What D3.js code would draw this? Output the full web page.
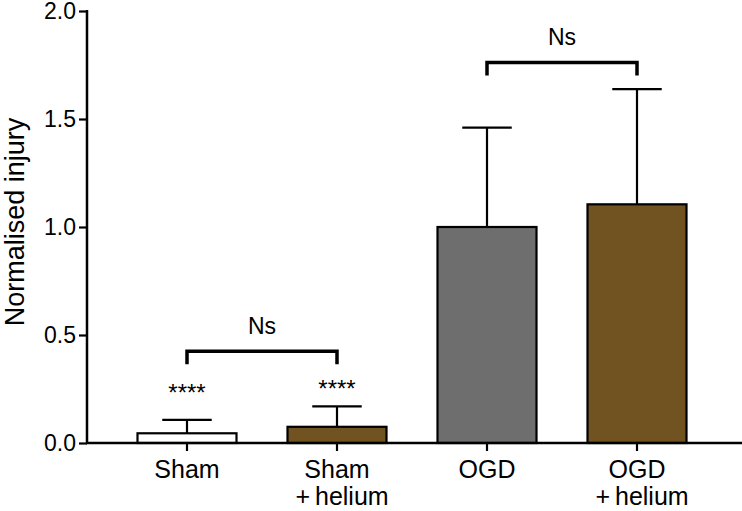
<!DOCTYPE html>
<html><head><meta charset="utf-8">
<script src="https://cdn.jsdelivr.net/npm/d3@7"></script>
<style>body{margin:0;background:#fff}svg{display:block}text{font-family:"Liberation Sans",Arial,Helvetica,sans-serif;fill:#000}</style>
</head><body>
<svg id="c" width="742" height="511"></svg>
<script>
const categories = ["Sham", "Sham+helium", "OGD", "OGD+helium"];
const labelLine1 = ["Sham", "Sham", "OGD", "OGD"];
const labelLine2 = ["", "+\u2009helium", "", "+\u2009helium"];
const means = [0.045, 0.075, 1.0, 1.105];
const errTops = [0.107, 0.170, 1.46, 1.638];
const fills = ["#ffffff", "#715321", "#6e6e6e", "#715321"];
const yTicks = [0.0, 0.5, 1.0, 1.5, 2.0];
const stars = [["Sham", "****", 0.194], ["Sham+helium", "****", 0.212]];
const brackets = [["Sham", "Sham+helium", 0.425, "Ns"], ["OGD", "OGD+helium", 1.762, "Ns"]];

const svg = d3.select("#c");
const x = d3.scaleBand().domain(categories).range([112, 712]).paddingInner(0.34).paddingOuter(0.17);
const y = d3.scaleLinear().domain([0, 2]).range([443, 11]);

// bars
svg.selectAll("rect.bar").data(categories).join("rect")
  .attr("x", d => x(d)).attr("width", x.bandwidth())
  .attr("y", (d,i) => y(means[i])).attr("height", (d,i) => y(0) - y(means[i]))
  .attr("fill", (d,i) => fills[i]).attr("stroke", "#000").attr("stroke-width", 2.2);

// error bars
const cx = d => x(d) + x.bandwidth()/2;
svg.selectAll("line.err").data(categories).join("line")
  .attr("x1", cx).attr("x2", cx)
  .attr("y1", (d,i) => y(means[i])).attr("y2", (d,i) => y(errTops[i]))
  .attr("stroke", "#000").attr("stroke-width", 2.2);
svg.selectAll("line.cap").data(categories).join("line")
  .attr("x1", d => cx(d) - x.bandwidth()/4).attr("x2", d => cx(d) + x.bandwidth()/4)
  .attr("y1", (d,i) => y(errTops[i])).attr("y2", (d,i) => y(errTops[i]))
  .attr("stroke", "#000").attr("stroke-width", 2.2);

// y axis
const yAxis = svg.append("g").attr("transform", "translate(87,0)")
  .call(d3.axisLeft(y).tickValues(yTicks).tickFormat(d3.format(".1f")).tickSize(8).tickSizeOuter(0).tickPadding(3));
yAxis.select(".domain").attr("stroke-width", 2.5).attr("d", `M0,${y(2)-1}V${y(0)}`);
yAxis.selectAll(".tick line").attr("stroke-width", 2.2);
yAxis.selectAll(".tick text").attr("dy", "0.34em")
  .style("font-size", "23px").style("font-family", "Liberation Sans, Arial, sans-serif").attr("fill", "#000");

// x axis
const xAxis = svg.append("g").attr("transform", `translate(0,${y(0)})`)
  .call(d3.axisBottom(x).tickSize(8).tickSizeOuter(0).tickFormat(""));
xAxis.select(".domain").attr("stroke-width", 2.5).attr("d", "M86,0H742");
xAxis.selectAll(".tick line").attr("stroke-width", 2.2);
categories.forEach((c,i) => {
  svg.append("text").attr("x", cx(c)).attr("y", 478)
    .attr("text-anchor", "middle").style("font-size", "25px").text(labelLine1[i]);
  if (labelLine2[i]) {
    svg.append("text").attr("x", cx(c) + 5).attr("y", 505)
      .attr("text-anchor", "middle").style("font-size", "25px").text(labelLine2[i]);
  }
});

// y title
svg.append("text").attr("transform", "translate(24,222) rotate(-90)")
  .attr("text-anchor", "middle").style("font-size", "27px").text("Normalised injury");

// stars
stars.forEach(([c, t, v]) => {
  svg.append("text").attr("x", cx(c)).attr("y", y(v))
    .attr("text-anchor", "middle").style("font-size", "24px").text(t);
});

// brackets
brackets.forEach(([a, b, v, t]) => {
  const x1 = cx(a), x2 = cx(b), yy = y(v);
  svg.append("path").attr("d", `M${x1},${yy+13}V${yy}H${x2}V${yy+13}`)
    .attr("fill", "none").attr("stroke", "#000").attr("stroke-width", 3.5);
  svg.append("text").attr("x", (x1+x2)/2).attr("y", yy - 17)
    .attr("text-anchor", "middle").style("font-size", "23px").text(t);
});
</script>
</body></html>
